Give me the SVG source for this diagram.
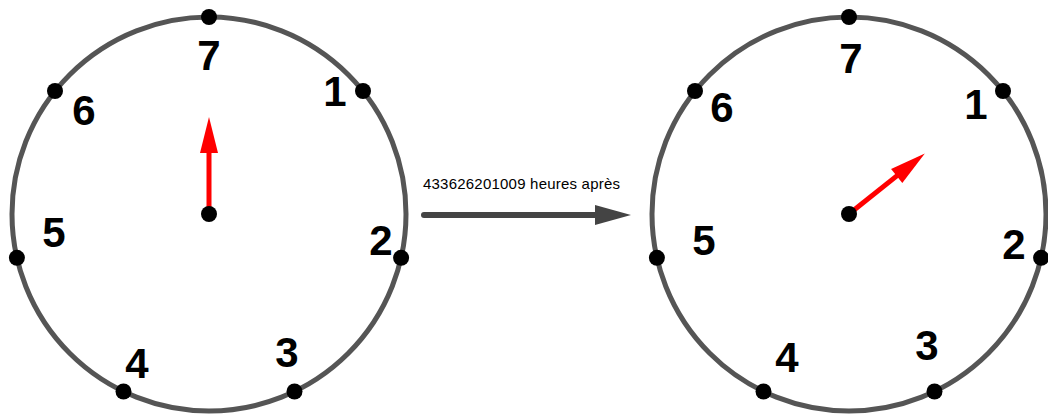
<svg xmlns="http://www.w3.org/2000/svg" width="1048" height="417" viewBox="0 0 1048 417">
<defs>
<style>
.face{fill:none;stroke:#555;stroke-width:5}
.dot{fill:#000}
.num{font-family:"Liberation Sans",Arial,sans-serif;font-weight:bold;font-size:42px;fill:#000;text-anchor:middle}
.hand{stroke:#f00;stroke-width:5;fill:none}
.head{fill:#f00}
.lbl{font-family:"Liberation Sans",Arial,sans-serif;font-size:15px;fill:#000}
</style>
<g id="dots">
<circle class="dot" cx="0" cy="-197" r="8"/>
<circle class="dot" cx="154" cy="-123" r="8"/>
<circle class="dot" cx="192.1" cy="43.8" r="8"/>
<circle class="dot" cx="85.5" cy="177.5" r="8"/>
<circle class="dot" cx="-85.5" cy="177.5" r="8"/>
<circle class="dot" cx="-192.1" cy="43.8" r="8"/>
<circle class="dot" cx="-154" cy="-123" r="8"/>
</g>
<g id="handshape">
<line class="hand" x1="0" y1="0" x2="0" y2="-64"/>
<polygon class="head" points="0,-97 -9,-61 9,-61"/>
</g>
</defs>
<g id="clock-left">
<circle class="face" cx="209" cy="214" r="197"/>
<use href="#dots" transform="translate(209,214)"/>
<text class="num" x="209" y="70">7</text>
<text class="num" x="335" y="106">1</text>
<text class="num" x="84" y="125">6</text>
<text class="num" x="54" y="247">5</text>
<text class="num" x="381" y="255">2</text>
<text class="num" x="287" y="367">3</text>
<text class="num" x="137" y="378">4</text>
<use href="#handshape" transform="translate(209,214)"/>
<circle class="dot" cx="209" cy="214" r="8"/>
</g>
<g id="clock-right">
<circle class="face" cx="849" cy="214" r="197"/>
<use href="#dots" transform="translate(849,214)"/>
<text class="num" x="851" y="73">7</text>
<text class="num" x="976" y="119">1</text>
<text class="num" x="722" y="122">6</text>
<text class="num" x="704" y="255">5</text>
<text class="num" x="1014" y="259">2</text>
<text class="num" x="927" y="360">3</text>
<text class="num" x="787" y="372">4</text>
<use href="#handshape" transform="translate(849,214) rotate(51.43)"/>
<circle class="dot" cx="849" cy="214" r="8"/>
</g>
<g id="connectors">
<line x1="424" y1="215" x2="598" y2="215" stroke="#444" stroke-width="6" stroke-linecap="round"/>
<polygon points="595,205 631,215 595,225" fill="#444"/>
<text class="lbl" x="423" y="189" textLength="197">433626201009 heures après</text>
</g>
</svg>
